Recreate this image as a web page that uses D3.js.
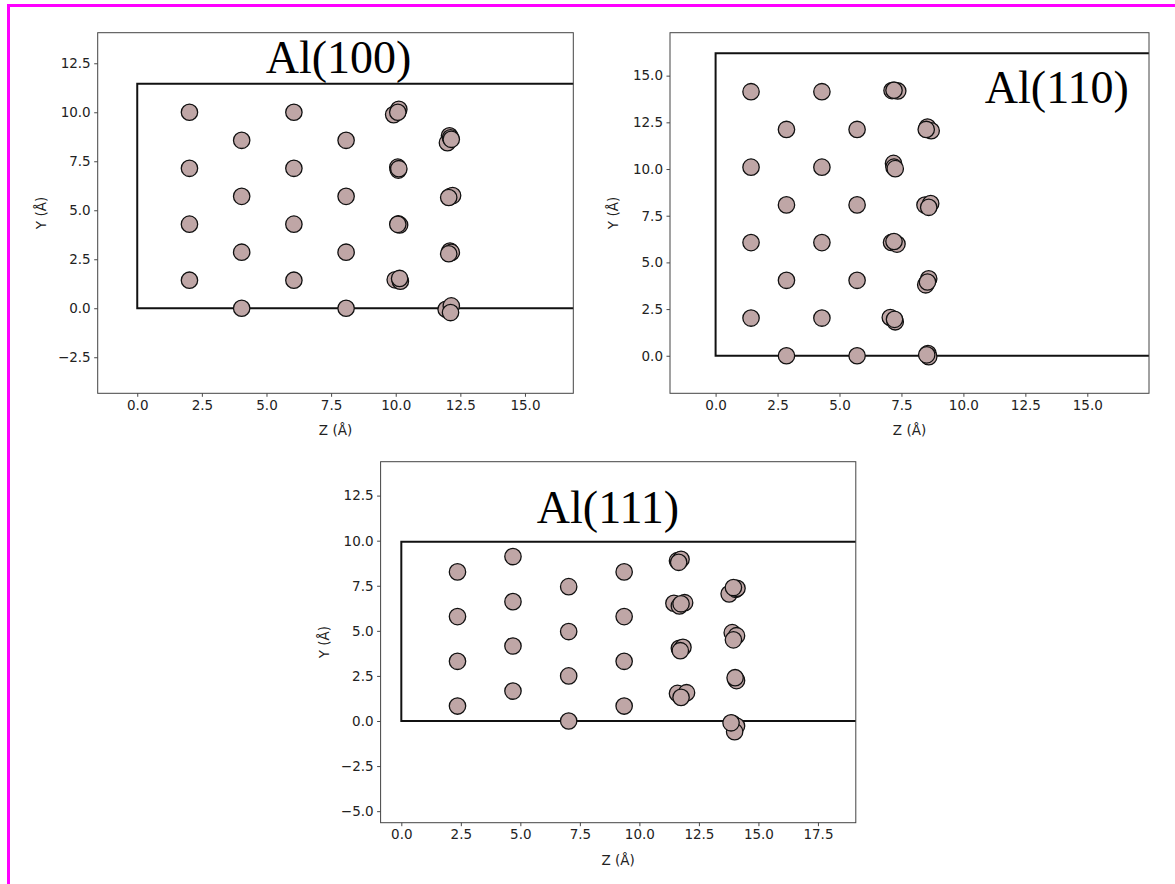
<!DOCTYPE html>
<html>
<head>
<meta charset="utf-8">
<script src="https://cdn.jsdelivr.net/npm/d3@7"></script>
<style>
  html, body { margin: 0; padding: 0; background: #fff; }
  svg { display: block; }
</style>
</head>
<body>
<svg id="chart" width="1175" height="884"></svg>
<script>
// ---------------- DATA ----------------
// Al(100) atom positions (Z, Y) in Å
const al100_z = [
  2.02, 2.02, 2.02, 2.02,
  4.04, 4.04, 4.04, 4.04,
  6.06, 6.06, 6.06, 6.06,
  8.08, 8.08, 8.08, 8.08,
  9.92, 10.12, 10.08,  10.08, 10.10, 10.12,  10.10, 10.15, 10.08,  9.98, 10.18, 10.15,
  12.08, 12.00, 12.12, 12.15,  12.10, 12.20, 12.05,  12.10, 12.15, 12.05,  11.95, 12.15, 12.12
];
const al100_y = [
  1.43, 4.29, 7.14, 10.00,
  0.00, 2.86, 5.71, 8.57,
  1.43, 4.29, 7.14, 10.00,
  0.00, 2.86, 5.71, 8.57,
  9.88, 10.15, 10.00,  7.20, 7.05, 7.12,  4.30, 4.25, 4.28,  1.45, 1.38, 1.52,
  8.80, 8.45, 8.70, 8.62,  5.70, 5.75, 5.65,  2.92, 2.85, 2.78,  -0.05, 0.12, -0.22
];
const al100_boxTop = 11.46;

// Al(110) atom positions (Z, Y) in Å
const al110_z = [
  1.43, 1.43, 1.43, 1.43,
  2.86, 2.86, 2.86, 2.86,
  4.29, 4.29, 4.29, 4.29,
  5.71, 5.71, 5.71, 5.71,
  7.12, 7.35, 7.20,  7.18, 7.20, 7.25,  7.10, 7.32, 7.20,  7.05, 7.25, 7.22,
  8.55, 8.70, 8.50,  8.45, 8.68, 8.60,  8.48, 8.60, 8.55,  8.57, 8.60, 8.52
];
const al110_y = [
  2.02, 6.06, 10.10, 14.14,
  0.00, 4.04, 8.08, 12.12,
  2.02, 6.06, 10.10, 14.14,
  0.00, 4.04, 8.08, 12.12,
  14.20, 14.18, 14.22,  10.30, 10.10, 10.02,  6.07, 5.98, 6.12,  2.05, 1.82, 1.95,
  12.25, 12.05, 12.12,  8.07, 8.15, 7.95,  3.80, 4.12, 3.95,  0.12, -0.05, 0.05
];
const al110_boxTop = 16.2;

// Al(111) atom positions (Z, Y) in Å
const al111_z = [
  2.36, 2.36, 2.36, 2.36,
  4.69, 4.69, 4.69, 4.69,
  7.03, 7.03, 7.03, 7.03,
  9.36, 9.36, 9.36, 9.36,
  11.60, 11.75, 11.65,  11.45, 11.90, 11.68, 11.75,  11.68, 11.83, 11.72,  11.60, 11.98, 11.75,
  13.77, 14.05, 14.10, 13.95,  13.90, 14.08, 13.95,  14.05, 14.08, 14.02,  13.90, 14.08, 14.00, 13.85
];
const al111_y = [
  0.83, 3.31, 5.79, 8.27,
  1.66, 4.16, 6.62, 9.12,
  0.00, 2.50, 4.96, 7.45,
  0.83, 3.31, 5.79, 8.27,
  8.89, 8.97, 8.80,  6.53, 6.56, 6.38, 6.50,  4.03, 4.09, 3.90,  1.53, 1.57, 1.31,
  7.05, 7.30, 7.36, 7.40,  4.90, 4.73, 4.50,  2.31, 2.24, 2.40,  -0.13, -0.28, -0.59, -0.10
];
const al111_boxTop = 9.94;

// Titles
const titles = ["Al(100)", "Al(110)", "Al(111)"];

// Tick values
const al100_xTicks = [0, 2.5, 5, 7.5, 10, 12.5, 15];
const al100_yTicks = [-2.5, 0, 2.5, 5, 7.5, 10, 12.5];
const al110_xTicks = [0, 2.5, 5, 7.5, 10, 12.5, 15];
const al110_yTicks = [0, 2.5, 5, 7.5, 10, 12.5, 15];
const al111_xTicks = [0, 2.5, 5, 7.5, 10, 12.5, 15, 17.5];
const al111_yTicks = [-5, -2.5, 0, 2.5, 5, 7.5, 10, 12.5];

const xLabel = "Z (Å)";
const yLabel = "Y (Å)";

// ---------------- LAYOUT ----------------
const panels = [
  { title: titles[0], z: al100_z, y: al100_y, boxTop: al100_boxTop,
    left: 97.7, right: 573.3, top: 32.7, bottom: 393.3,
    xDomain: [-1.53, 16.87], yDomain: [-4.34, 14.06],
    xTicks: al100_xTicks, yTicks: al100_yTicks, titleAt: [7.79, 12.0] },
  { title: titles[1], z: al110_z, y: al110_y, boxTop: al110_boxTop,
    left: 670, right: 1149, top: 32.7, bottom: 393.3,
    xDomain: [-1.84, 17.49], yDomain: [-2.01, 17.3],
    xTicks: al110_xTicks, yTicks: al110_yTicks, titleAt: [13.77, 13.54] },
  { title: titles[2], z: al111_z, y: al111_y, boxTop: al111_boxTop,
    left: 380.6, right: 855.8, top: 461.7, bottom: 822.7,
    xDomain: [-0.87, 19.09], yDomain: [-5.64, 14.38],
    xTicks: al111_xTicks, yTicks: al111_yTicks, titleAt: [8.68, 11.0] }
];

const svg = d3.select("#chart");
svg.append("rect").attr("width", 1175).attr("height", 884).attr("fill", "#fff");

// magenta frame (left and top)
svg.append("rect").attr("x", 7).attr("y", 4).attr("width", 3).attr("height", 880).attr("fill", "#ff00ff");
svg.append("rect").attr("x", 7).attr("y", 4).attr("width", 1168).attr("height", 3).attr("fill", "#ff00ff");

const fmt = d3.format(".1f");
const atomFill = "#bfa6a6";

panels.forEach((p, i) => {
  const x = d3.scaleLinear().domain(p.xDomain).range([p.left, p.right]);
  const y = d3.scaleLinear().domain(p.yDomain).range([p.bottom, p.top]);
  const g = svg.append("g");

  const clipId = "clip" + i;
  g.append("clipPath").attr("id", clipId)
    .append("rect")
    .attr("x", p.left).attr("y", p.top)
    .attr("width", p.right - p.left).attr("height", p.bottom - p.top);

  const plot = g.append("g").attr("clip-path", `url(#${clipId})`);

  // cell box outline
  const farZ = p.xDomain[1] + 5;
  const boxPts = [[farZ, p.boxTop], [0, p.boxTop], [0, 0], [farZ, 0]];
  plot.append("path")
    .attr("d", d3.line().x(d => x(d[0])).y(d => y(d[1]))(boxPts))
    .attr("fill", "none")
    .attr("stroke", "#111")
    .attr("stroke-width", 2);

  // atoms
  const pts = p.z.map((zv, k) => [zv, p.y[k]]);
  plot.selectAll("circle").data(pts).enter().append("circle")
    .attr("cx", d => x(d[0]))
    .attr("cy", d => y(d[1]))
    .attr("r", 8.2)
    .attr("fill", atomFill)
    .attr("stroke", "#111")
    .attr("stroke-width", 1.3);

  // title
  g.append("text")
    .attr("x", x(p.titleAt[0]))
    .attr("y", y(p.titleAt[1]))
    .attr("text-anchor", "middle")
    .attr("font-family", "'Liberation Serif', 'Times New Roman', serif")
    .attr("font-size", 46)
    .attr("fill", "#000")
    .text(p.title);

  // axes
  const xAxis = d3.axisBottom(x).tickValues(p.xTicks).tickFormat(fmt)
    .tickSizeInner(3.5).tickSizeOuter(0).tickPadding(3.5);
  const yAxis = d3.axisLeft(y).tickValues(p.yTicks).tickFormat(fmt)
    .tickSizeInner(3.5).tickSizeOuter(0).tickPadding(3.5);

  const gx = g.append("g").attr("transform", `translate(0,${p.bottom})`).call(xAxis);
  const gy = g.append("g").attr("transform", `translate(${p.left},0)`).call(yAxis);
  [gx, gy].forEach(a => {
    a.select(".domain").remove();
    a.selectAll(".tick line").attr("stroke", "#333").attr("stroke-width", 0.9);
    a.selectAll(".tick text")
      .attr("font-family", "'DejaVu Sans', sans-serif")
      .attr("font-size", 13.5)
      .attr("fill", "#222");
  });

  // frame (spines)
  g.append("rect")
    .attr("x", p.left).attr("y", p.top)
    .attr("width", p.right - p.left).attr("height", p.bottom - p.top)
    .attr("fill", "none").attr("stroke", "#444").attr("stroke-width", 1);

  // axis labels
  g.append("text")
    .attr("x", (p.left + p.right) / 2)
    .attr("y", p.bottom + 42)
    .attr("text-anchor", "middle")
    .attr("font-family", "'DejaVu Sans', sans-serif")
    .attr("font-size", 13.5)
    .attr("fill", "#222")
    .text(xLabel);

  g.append("text")
    .attr("transform", `translate(${p.left - 52},${(p.top + p.bottom) / 2}) rotate(-90)`)
    .attr("text-anchor", "middle")
    .attr("font-family", "'DejaVu Sans', sans-serif")
    .attr("font-size", 13.5)
    .attr("fill", "#222")
    .text(yLabel);
});
</script>
</body>
</html>
